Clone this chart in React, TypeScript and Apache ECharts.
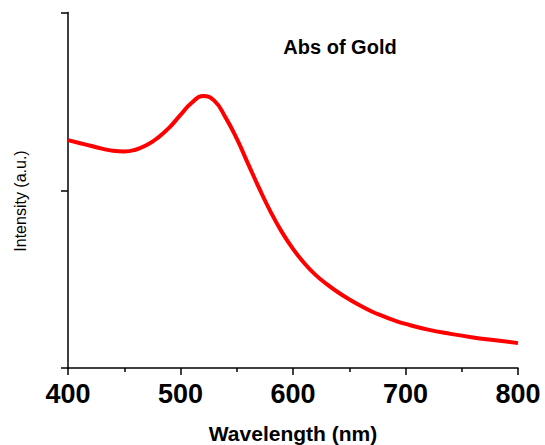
import React, { useEffect, useRef } from "react";
import * as echarts from "echarts";

const wavelengths = [400, 410, 420, 430, 440, 450, 460, 470, 480, 490, 500, 510, 520, 530, 540, 550, 560, 570, 580, 590, 600, 610, 620, 630, 640, 650, 660, 670, 680, 690, 700, 720, 740, 760, 780, 800];
const intensity = [0.641, 0.633, 0.625, 0.617, 0.611, 0.609, 0.614, 0.627, 0.648, 0.676, 0.712, 0.746, 0.765, 0.752, 0.705, 0.645, 0.575, 0.505, 0.44, 0.383, 0.335, 0.295, 0.262, 0.236, 0.213, 0.193, 0.175, 0.159, 0.146, 0.134, 0.124, 0.108, 0.096, 0.086, 0.078, 0.07];
const titleText = "Abs of Gold";
const xName = "Wavelength (nm)";
const yName = "Intensity (a.u.)";

export default function App() {
  const ref = useRef<HTMLDivElement>(null);
  useEffect(() => {
    if (!ref.current) return;
    const chart = echarts.init(ref.current, null, { renderer: "svg" });
    const font = "'Liberation Sans', Arial, sans-serif";
    chart.setOption({
      animation: false,
      backgroundColor: "#fff",
      grid: { left: 68, right: 27, top: 12.5, bottom: 77, outerBoundsMode: "none", containLabel: false },
      graphic: [
        {
          type: "text",
          x: 340,
          y: 47,
          style: {
            text: titleText,
            fontFamily: font,
            fontWeight: "bold",
            fontSize: 20,
            fill: "#000",
            textAlign: "center",
            textVerticalAlign: "middle",
          },
        },
        {
          type: "text",
          x: 20,
          y: 201,
          rotation: Math.PI / 2,
          style: {
            text: yName,
            fontFamily: font,
            fontSize: 16,
            fill: "#000",
            textAlign: "center",
            textVerticalAlign: "middle",
          },
        },
      ],
      xAxis: {
        type: "value",
        min: 400,
        max: 800,
        interval: 100,
        name: xName,
        nameLocation: "middle",
        nameGap: 55,
        nameTextStyle: { fontFamily: font, fontWeight: "bold", fontSize: 21, color: "#000" },
        axisLine: { show: true, onZero: false, lineStyle: { color: "#000", width: 1.5 } },
        axisTick: { show: true, inside: false, length: 7, lineStyle: { color: "#000", width: 1.5 } },
        minorTick: { show: true, splitNumber: 2, length: 4, lineStyle: { color: "#000", width: 1.5 } },
        axisLabel: { fontFamily: font, fontWeight: "bold", fontSize: 27, color: "#000", margin: 12 },
        splitLine: { show: false },
      },
      yAxis: {
        type: "value",
        min: 0,
        max: 1,
        interval: 0.5,
        axisLine: { show: true, onZero: false, lineStyle: { color: "#000", width: 1.5 } },
        axisTick: { show: true, inside: false, length: 7, lineStyle: { color: "#000", width: 1.5 } },
        axisLabel: { show: false },
        splitLine: { show: false },
      },
      series: [
        {
          type: "line",
          data: wavelengths.map((w, i) => [w, intensity[i]]),
          smooth: true,
          showSymbol: false,
          lineStyle: { color: "#ff0000", width: 4 },
        },
      ],
    });
    return () => chart.dispose();
  }, []);
  return <div ref={ref} style={{ width: 545, height: 445, position: "absolute", left: 0, top: 0 }} />;
}
